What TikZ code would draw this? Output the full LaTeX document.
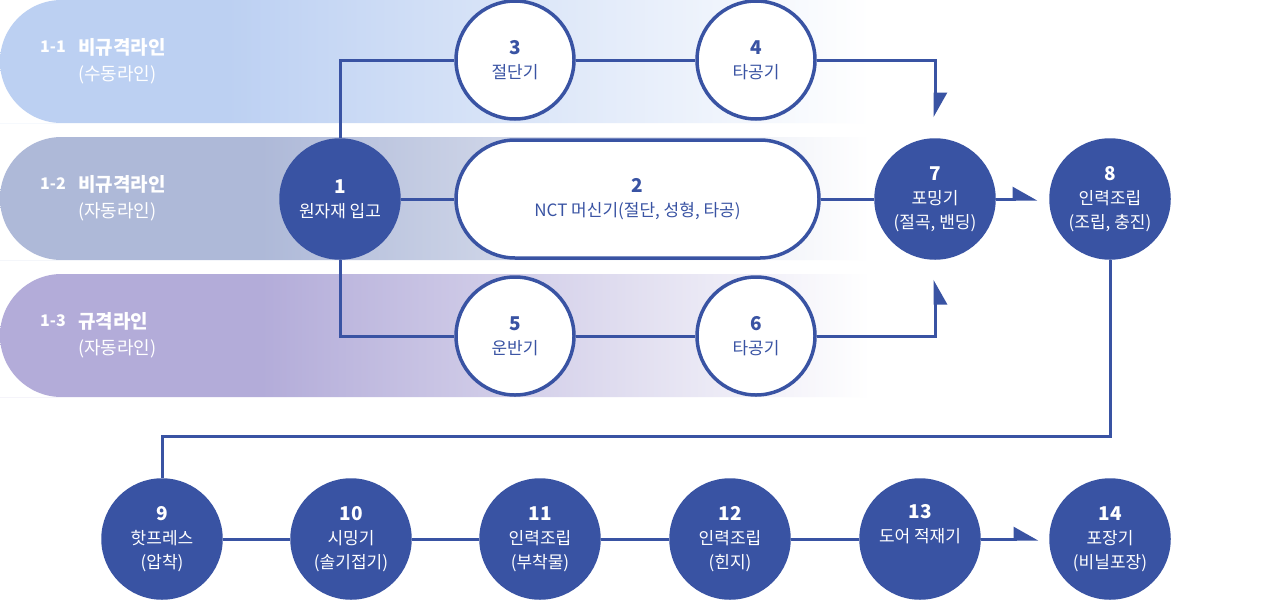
\documentclass[tikz,border=0pt]{standalone}
\usepackage{fontspec}
\setmainfont{Noto Sans CJK KR}
\usetikzlibrary{arrows.meta,positioning}
\definecolor{navy}{RGB}{57,83,163}
\definecolor{laneA}{RGB}{188,208,242}
\definecolor{laneB}{RGB}{174,185,216}
\definecolor{laneC}{RGB}{179,172,217}
\pgfdeclarehorizontalshading{fadeA}{100bp}{color(0bp)=(laneA); color(38bp)=(laneA); color(75bp)=(white); color(100bp)=(white)}
\pgfdeclarehorizontalshading{fadeB}{100bp}{color(0bp)=(laneB); color(40bp)=(laneB); color(75bp)=(white); color(100bp)=(white)}
\pgfdeclarehorizontalshading{fadeC}{100bp}{color(0bp)=(laneC); color(40bp)=(laneC); color(75bp)=(white); color(100bp)=(white)}
\newcommand{\stepno}[1]{{\fontsize{19}{24}\selectfont\bfseries #1}}
\tikzset{
  stage/.style={circle, draw=navy, line width=3.5pt, fill=white, text=navy,
                minimum size=118pt, inner sep=0pt, align=center,
                font=\fontsize{17}{24}\selectfont},
  hub/.style={stage, fill=navy, text=white},
  machine/.style={stage, rectangle, rounded corners=59pt,
                minimum width=363pt, minimum height=118pt},
  link/.style={draw=navy, line width=3pt},
  flow/.style={link, -{Triangle[harpoon, length=22pt, width=24pt]}},
  lanetag/.style={text=white, inner sep=0pt, anchor=west,
                font=\fontsize{19}{22}\selectfont\bfseries},
  lanesub/.style={text=white, inner sep=0pt, anchor=west,
                font=\fontsize{18}{22}\selectfont},
}
\begin{document}
\begin{tikzpicture}[x=1pt,y=-1pt]
  \fill[white] (0,0) rectangle (1271,600);
  \useasboundingbox (0,0) rectangle (1271,600);
  \shade[shading=fadeA] (870,0) -- (61.5,0) [rounded corners=61.5pt] -- (0,0) -- (0,123) -- (61.5,123) [sharp corners] -- (870,123) -- cycle;
  \shade[shading=fadeB] (870,137) -- (61.5,137) [rounded corners=61.5pt] -- (0,137) -- (0,260) -- (61.5,260) [sharp corners] -- (870,260) -- cycle;
  \shade[shading=fadeC] (870,274) -- (61.5,274) [rounded corners=61.5pt] -- (0,274) -- (0,397) -- (61.5,397) [sharp corners] -- (870,397) -- cycle;
  \node[lanetag, font=\fontsize{16}{22}\selectfont\bfseries] (t1) at (40,47) {1-1};
  \node[lanetag] (h1) at (78,47) {비규격라인};
  \node[lanesub] (s1) at (78,75) {(수동라인)};
  \node[lanetag, font=\fontsize{16}{22}\selectfont\bfseries] (t2) at (40,184) {1-2};
  \node[lanetag] (h2) at (78,184) {비규격라인};
  \node[lanesub] (s2) at (78,212) {(자동라인)};
  \node[lanetag, font=\fontsize{16}{22}\selectfont\bfseries] (t3) at (40,321) {1-3};
  \node[lanetag] (h3) at (78,321) {규격라인};
  \node[lanesub] (s3) at (78,349) {(자동라인)};
  \node[hub] (n1) at (340,199) {\stepno{1}\\원자재 입고};
  \node[machine] (n2) at (637.5,199) {\stepno{2}\\NCT 머신기(절단, 성형, 타공)};
  \node[stage] (n3) at (515,60) {\stepno{3}\\절단기};
  \node[stage] (n4) at (756,60) {\stepno{4}\\타공기};
  \node[stage] (n5) at (515,336) {\stepno{5}\\운반기};
  \node[stage] (n6) at (756,336) {\stepno{6}\\타공기};
  \node[hub] (n7) at (935,199) {\stepno{7}\\포밍기\\(절곡, 밴딩)};
  \node[hub] (n8) at (1110,199) {\stepno{8}\\인력조립\\(조립, 충진)};
  \node[hub] (n9) at (162,539) {\stepno{9}\\핫프레스\\(압착)};
  \node[hub] (n10) at (351,539) {\stepno{10}\\시밍기\\(솔기접기)};
  \node[hub] (n11) at (540,539) {\stepno{11}\\인력조립\\(부착물)};
  \node[hub] (n12) at (730,539) {\stepno{12}\\인력조립\\(힌지)};
  \node[hub] (n13) at (920,539) {\stepno{13}\\도어 적재기\\\strut};
  \node[hub] (n14) at (1110,539) {\stepno{14}\\포장기\\(비닐포장)};
  \draw[link] (n1.north) |- (n3.west);
  \draw[link] (n3) -- (n4);
  \draw[flow, shorten >=21pt] (n4.east) -| (n7.north);
  \draw[link] (n1) -- (n2);
  \draw[link] (n2) -- (n7);
  \draw[link] (n1.south) |- (n5.west);
  \draw[link] (n5) -- (n6);
  \draw[flow, -{Triangle[harpoon, swap, length=22pt, width=24pt]}, shorten >=20pt] (n6.east) -| (n7.south);
  \draw[flow, shorten >=12pt] (n7) -- (n8);
  \draw[link] (n8.south) -- ++(0,177) -| (n9.north);
  \draw[link] (n9) -- (n10);
  \draw[link] (n10) -- (n11);
  \draw[link] (n11) -- (n12);
  \draw[link] (n12) -- (n13);
  \draw[flow, shorten >=11pt] (n13) -- (n14);
\end{tikzpicture}
\end{document}
